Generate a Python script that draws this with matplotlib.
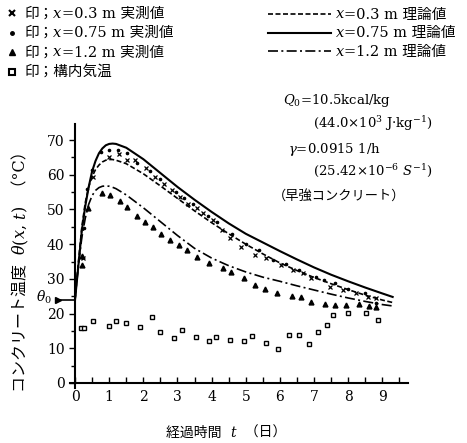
import matplotlib
matplotlib.use("Agg")
import matplotlib.pyplot as plt
from matplotlib.lines import Line2D

plt.rcParams['font.family'] = ['DejaVu Serif', 'Noto Sans CJK JP']
plt.rcParams['mathtext.fontset'] = 'dejavuserif'

# theoretical curves
t_line = [0, 0.1, 0.2, 0.3, 0.4, 0.5, 0.6, 0.7, 0.8, 0.9, 1.0, 1.1, 1.2, 1.5,
          2.0, 2.5, 3.0, 3.5, 4.0, 4.5, 5.0, 5.5, 6.0, 6.5, 7.0, 7.5, 8.0, 8.5, 9.0, 9.3]
theory_03 = [24, 35, 45, 52, 56.5, 59.5, 61.5, 62.8, 63.7, 64.2, 64.4, 64.4, 64.2, 63.2,
             60.3, 56.8, 53.2, 49.6, 46.2, 43.0, 40.0, 37.2, 34.6, 32.4, 30.4, 28.6, 26.9, 25.3, 23.9, 23.2]
theory_075 = [24, 34, 44, 51, 56.5, 61, 64, 66.2, 67.6, 68.5, 68.9, 69.0, 68.9, 67.8,
              64.5, 60.5, 56.5, 52.8, 49.3, 46.0, 43.0, 40.5, 38.0, 35.6, 33.3, 31.2, 29.3, 27.5, 25.8, 24.8]
theory_12 = [24, 34, 42, 47.5, 51.5, 54, 55.5, 56.3, 56.7, 56.8, 56.7, 56.4, 56.0, 54.2,
             50.5, 46.5, 42.5, 38.8, 36.0, 33.8, 32.0, 30.5, 29.3, 28.0, 26.8, 25.6, 24.5, 23.5, 22.6, 22.2]

# measured values
t_x03 = [0.22, 0.52, 1.0, 1.3, 1.53, 1.75, 2.08, 2.34, 2.6, 2.83, 3.07, 3.31, 3.56, 3.75,
         4.04, 4.29, 4.53, 4.87, 5.26, 5.6, 6.04, 6.38, 6.67, 6.92, 7.46, 7.85, 8.24, 8.58, 8.82]
v_x03 = [35.9, 59.5, 65.0, 65.9, 64.3, 64.4, 61.9, 59.5, 57.3, 55.6, 53.5, 51.5, 50.3, 48.9,
         47.0, 44.1, 41.7, 39.3, 36.9, 35.9, 34.0, 32.6, 31.6, 30.2, 27.8, 26.8, 25.8, 24.9, 24.4]

t_x075 = [0.26, 0.36, 0.49, 0.75, 1.0, 1.27, 1.51, 1.8, 2.2, 2.5, 2.95, 3.2, 3.45, 3.9,
          4.15, 4.6, 5.02, 5.4, 5.8, 6.19, 6.55, 7.07, 7.3, 7.6, 8.0, 8.48, 8.82]
v_x075 = [44.6, 55.9, 61.4, 66.7, 67.2, 67.1, 66.4, 63.5, 61.0, 58.8, 55.0, 53.2, 51.5, 48.0,
          46.5, 43.0, 40.0, 38.2, 35.5, 34.2, 32.5, 30.5, 29.6, 28.8, 27.2, 25.8, 23.0]

t_x12 = [0.2, 0.2, 0.37, 0.78, 1.02, 1.31, 1.53, 1.81, 2.06, 2.28, 2.53, 2.79, 3.04, 3.28,
         3.57, 3.91, 4.33, 4.58, 4.94, 5.27, 5.57, 5.9, 6.34, 6.61, 6.92, 7.33, 7.6, 7.94,
         8.31, 8.61, 8.82]
v_x12 = [34.0, 36.5, 50.4, 54.7, 54.2, 52.5, 50.8, 48.0, 46.3, 44.9, 43.0, 41.2, 39.7, 38.2,
         36.4, 34.5, 33.1, 31.9, 30.3, 28.3, 27.2, 26.0, 25.1, 24.7, 23.4, 22.7, 22.5, 22.5,
         22.9, 22.3, 22.0]

t_air = [0.17, 0.26, 0.52, 0.98, 1.2, 1.49, 1.9, 2.26, 2.49, 2.9, 3.14, 3.53, 3.92, 4.14,
         4.53, 4.95, 5.18, 5.58, 5.93, 6.27, 6.56, 6.85, 7.11, 7.38, 7.55, 8.0, 8.53, 8.86]
v_air = [15.8, 15.8, 17.9, 16.4, 17.9, 17.4, 16.0, 19.1, 14.8, 12.9, 15.4, 13.3, 12.2, 13.3,
         12.4, 12.2, 13.5, 11.6, 9.7, 13.8, 13.8, 11.1, 14.8, 16.7, 19.6, 20.3, 20.1, 18.2]

theta0 = 24

W, H = 467, 443
fig = plt.figure(figsize=(W / 100, H / 100), dpi=100)
ax = fig.add_axes([0.1497, 0.1237, 0.724, 0.5953])
renderer = fig.canvas.get_renderer()


def rich(x, y, parts, size=10, rot=0):
    # x, y in pixels from top-left; parts = [(text, italic?), ...]
    fx, fy = x / W, 1 - y / H
    for s, it in parts:
        t = fig.text(fx, fy, s, fontsize=size, fontstyle='italic' if it else 'normal',
                     rotation=rot, rotation_mode='anchor', ha='left', va='baseline')
        bb = t.get_window_extent(renderer)
        if rot == 0:
            fx += bb.width / W
        else:
            fy += bb.height / H


dash03 = (3, 1.5)
dashdot12 = (6, 2, 1.2, 2)

ax.plot(t_line, theory_075, color='black', lw=1.5)
ax.plot(t_line, theory_03, color='black', lw=1.2, dashes=dash03)
ax.plot(t_line, theory_12, color='black', lw=1.2, dashes=dashdot12)

ax.plot(t_x03, v_x03, 'x', color='black', ms=3, mew=0.9)
ax.plot(t_x075, v_x075, 'o', color='black', ms=1.6)
ax.plot(t_x12, v_x12, '^', color='black', ms=3.5)
ax.plot(t_air, v_air, 's', mfc='white', mec='black', ms=3.2, mew=1.0)

# theta0 marker on the y axis
ax.plot([-0.55, 0], [theta0, theta0], color='black', lw=1.2, clip_on=False)
ax.plot([-0.5], [theta0], '>', color='black', ms=4, clip_on=False)
ax.text(-0.68, theta0 + 0.8, r'$\theta_0$', fontsize=10, ha='right', va='center')

ax.set_xlim(-0.15, 9.75)
ax.set_ylim(-1.5, 74.5)
for s in ['top', 'right']:
    ax.spines[s].set_visible(False)
ax.spines['bottom'].set_position(('data', 0))
ax.spines['left'].set_position(('data', 0))
ax.spines['left'].set_linewidth(1.5)
ax.spines['bottom'].set_linewidth(1.5)

ax.set_xticks(range(0, 10))
ax.set_xticks([i * 0.5 for i in range(0, 20)], minor=True)
ax.set_yticks(range(0, 71, 10))
ax.set_yticks(range(0, 71, 5), minor=True)
ax.tick_params(axis='x', which='both', direction='in', length=4, width=1, labelsize=10, pad=5)
ax.tick_params(axis='y', which='major', direction='out', length=4, width=1, labelsize=10)
ax.tick_params(axis='y', which='minor', direction='out', length=3, width=1)

# axis labels
rich(166, 437, [('経過時間  ', False), ('t', True), ('  （日）', False)])
rich(25, 392, [('コンクリート温度  ', False), ('θ', True), ('(', False), ('x', True),
               (', ', False), ('t', True), (')  （°C）', False)], size=11.5, rot=90)

# left legend: measured values
meas = [dict(marker='x', color='black', ms=4, mew=1.5),
        dict(marker='o', color='black', ms=2.5),
        dict(marker='^', color='black', ms=4.5),
        dict(marker='s', mfc='white', mec='black', ms=4, mew=1.5)]
meas_lab = [[('印；', False), ('x', True), ('=0.3 m 実測値', False)],
            [('印；', False), ('x', True), ('=0.75 m 実測値', False)],
            [('印；', False), ('x', True), ('=1.2 m 実測値', False)],
            [('印；構内気温', False)]]
for i, (mk, lab) in enumerate(zip(meas, meas_lab)):
    yc = 13 + i * 19.5
    fig.add_artist(Line2D([12 / W], [1 - yc / H], ls='none', **mk))
    rich(24, yc + 4.5, lab, size=10.5)

# right legend: theoretical values
theo = [dict(lw=1.2, dashes=dash03), dict(lw=1.5), dict(lw=1.2, dashes=dashdot12)]
theo_lab = [[('x', True), ('=0.3 m 理論値', False)],
            [('x', True), ('=0.75 m 理論値', False)],
            [('x', True), ('=1.2 m 理論値', False)]]
for i, (st, lab) in enumerate(zip(theo, theo_lab)):
    yc = 14 + i * 18.5
    fig.add_artist(Line2D([268 / W, 331 / W], [1 - yc / H] * 2, color='black', **st))
    rich(336, yc + 4.5, lab, size=10.5)

fig.text(283 / W, 1 - 104 / H, '$Q_0$=10.5kcal/kg', fontsize=9.5)
fig.text(313 / W, 1 - 128 / H, '(44.0×10$^3$ J·kg$^{-1}$)', fontsize=9.5)
fig.text(288 / W, 1 - 153 / H, '$\\gamma$=0.0915 1/h', fontsize=9.5)
fig.text(313 / W, 1 - 175 / H, '(25.42×10$^{-6}$ $S^{-1}$)', fontsize=9.5)
fig.text(273 / W, 1 - 200 / H, '（早強コンクリート）', fontsize=9.5)

fig.savefig('out.png', dpi=100)
